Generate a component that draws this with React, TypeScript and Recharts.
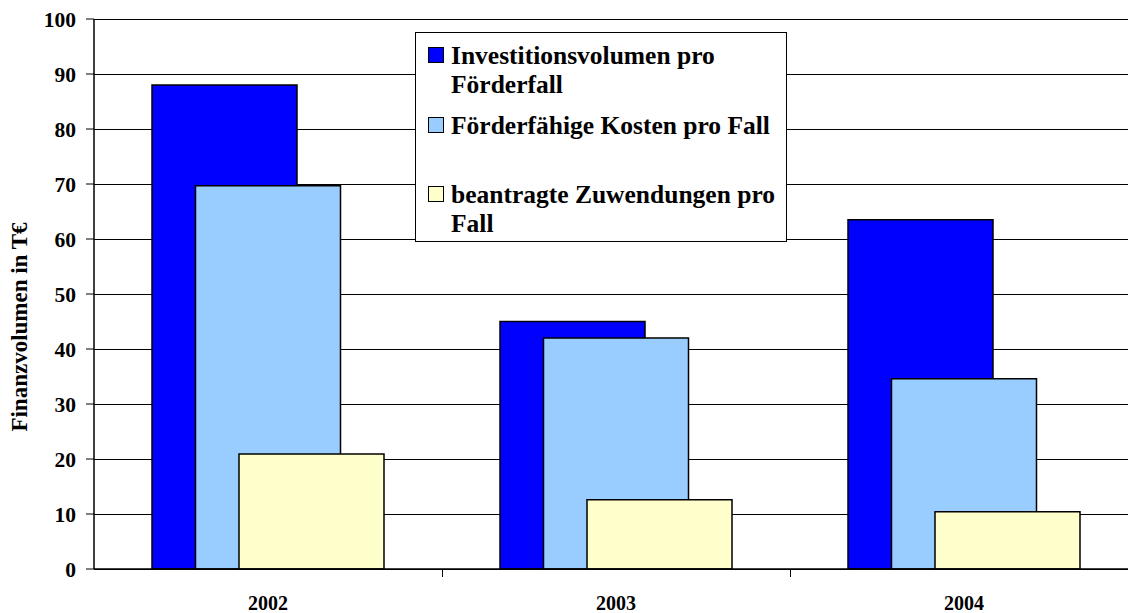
import React from "react";
import {
  BarChart,
  Bar,
  XAxis,
  YAxis,
  CartesianGrid,
  Legend,
} from "recharts";

const years = ["2002", "2003", "2004"];
const investitionProFall = [88, 45, 63.5];
const foerderfaehigeKosten = [69.7, 42, 34.6];
const beantragteZuwendungen = [20.9, 12.6, 10.4];
const yTicks = [0, 10, 20, 30, 40, 50, 60, 70, 80, 90, 100];

const seriesNames = [
  "Investitionsvolumen pro Förderfall",
  "Förderfähige Kosten pro Fall",
  "beantragte Zuwendungen pro Fall",
];

const data = years.map((year, i) => ({
  year,
  inv: investitionProFall[i],
  kosten: foerderfaehigeKosten[i],
  zuw: beantragteZuwendungen[i],
}));

const FONT = '"Liberation Serif", "Times New Roman", serif';
const CHART_W = 1160;
const CHART_H = 613;
const MARGIN = { top: 19, right: 22, bottom: 0, left: 0 };
const Y_AXIS_W = 94;
const HALF_BAND =
  (CHART_W - MARGIN.left - MARGIN.right - Y_AXIS_W) / years.length / 2;

const XTick = (props: any) => {
  const { x, y, payload } = props;
  return (
    <g>
      <line
        x1={x + HALF_BAND}
        x2={x + HALF_BAND}
        y1={y}
        y2={y + 8}
        stroke="#000"
        shapeRendering="crispEdges"
      />
      <text
        x={x}
        y={y + 34}
        dy="0.355em"
        textAnchor="middle"
        fontFamily={FONT}
        fontWeight="bold"
        fontSize={20}
        fill="#000"
      >
        {payload.value}
      </text>
    </g>
  );
};

const LegendBox = (props: any) => {
  const items = [...(props.payload || [])].sort(
    (a: any, b: any) => seriesNames.indexOf(a.value) - seriesNames.indexOf(b.value)
  );
  return (
    <div
      style={{
        width: 372,
        height: 210,
        boxSizing: "border-box",
        border: "1px solid #000",
        background: "#fff",
        paddingTop: 8,
        fontFamily: FONT,
        fontWeight: "bold",
        fontSize: 25.5,
        lineHeight: "29px",
        color: "#000",
      }}
    >
      {items.map((entry: any, i: number) => (
        <div key={`item-${i}`} style={{ position: "relative", height: 69.5 }}>
          <span
            style={{
              position: "absolute",
              left: 12,
              top: 6,
              width: 16,
              height: 16,
              boxSizing: "border-box",
              border: "1px solid #000",
              background: entry.color,
            }}
          />
          <div style={{ position: "absolute", left: 35, top: 0, width: 334 }}>
            {entry.value}
          </div>
        </div>
      ))}
    </div>
  );
};

export default function App() {
  return (
    <div
      style={{
        position: "absolute",
        left: 0,
        top: 0,
        width: 1128,
        height: 613,
        overflow: "hidden",
        background: "#fff",
      }}
    >
      <BarChart
        width={CHART_W}
        height={CHART_H}
        data={data}
        margin={MARGIN}
        barSize={145}
        barGap={-101.5}
      >
        <CartesianGrid
          vertical={false}
          stroke="#000"
          strokeWidth={1}
          shapeRendering="crispEdges"
        />
        <XAxis
          dataKey="year"
          height={44}
          axisLine={{ stroke: "#000", strokeWidth: 1.5 }}
          tickLine={false}
          tickSize={0}
          tickMargin={0}
          tick={<XTick />}
          interval={0}
        />
        <YAxis
          width={Y_AXIS_W}
          domain={[0, 100]}
          ticks={yTicks}
          interval={0}
          axisLine={{ stroke: "#000", strokeWidth: 1.5 }}
          tickLine={{ stroke: "#000" }}
          tickSize={8}
          tickMargin={10}
          tick={{
            fill: "#000",
            fontFamily: FONT,
            fontWeight: "bold",
            fontSize: 21.5,
          }}
          label={{
            content: () => (
              <text
                x={19}
                y={327}
                transform="rotate(-90, 19, 327)"
                textAnchor="middle"
                dominantBaseline="central"
                fontFamily={FONT}
                fontWeight="bold"
                fontSize={23}
                fill="#000"
              >
                Finanzvolumen in T€
              </text>
            ),
          }}
        />
        <Legend
          layout="vertical"
          align="center"
          verticalAlign="middle"
          itemSorter={(item: any) => seriesNames.indexOf(item.value)}
          wrapperStyle={{ left: 415, top: 32 }}
          content={<LegendBox />}
        />
        <Bar
          dataKey="inv"
          name={seriesNames[0]}
          fill="#0000FF"
          stroke="#000"
          strokeWidth={1.5}
          isAnimationActive={false}
        />
        <Bar
          dataKey="kosten"
          name={seriesNames[1]}
          fill="#99CCFF"
          stroke="#000"
          strokeWidth={1.5}
          isAnimationActive={false}
        />
        <Bar
          dataKey="zuw"
          name={seriesNames[2]}
          fill="#FFFFCC"
          stroke="#000"
          strokeWidth={1.5}
          isAnimationActive={false}
        />
      </BarChart>
    </div>
  );
}
